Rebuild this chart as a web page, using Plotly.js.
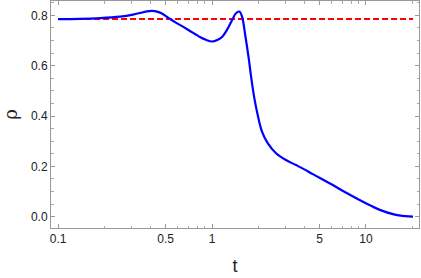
<!DOCTYPE html>
<html><head><meta charset="utf-8">
<script src="https://cdn.plot.ly/plotly-3.0.1.min.js"></script>
<style>html,body{margin:0;padding:0;background:#fff}#plot{width:421px;height:278px}</style>
</head><body><div id="plot"></div>
<script>
var tValues = [0.1, 0.139, 0.1875, 0.253, 0.307, 0.351, 0.378, 0.408, 0.439, 0.473, 0.518, 0.575, 0.639, 0.719, 0.835, 0.912, 1.0, 1.09, 1.17, 1.245, 1.355, 1.43, 1.504, 1.566, 1.645, 1.731, 1.8, 1.883, 1.981, 2.112, 2.3, 2.604, 3.023, 3.512, 3.975, 4.55, 5.84, 7.49, 10, 12.3, 15.4, 18.0, 20.2];
var rhoValues = [0.785, 0.786, 0.789, 0.795, 0.803, 0.811, 0.816, 0.818, 0.815, 0.807, 0.791, 0.773, 0.757, 0.738, 0.714, 0.703, 0.696, 0.703, 0.716, 0.74, 0.783, 0.808, 0.815, 0.795, 0.72, 0.63, 0.55, 0.471, 0.404, 0.338, 0.292, 0.252, 0.225, 0.205, 0.188, 0.168, 0.132, 0.094, 0.053, 0.027, 0.008, 0.002, 0.0];
var refT = [0.1, 20.2];
var refRho = [0.785, 0.785];
var xTickVals = [0.1, 0.5, 1, 5, 10];
var xTickText = ["0.1", "0.5", "1", "5", "10"];
var xMinorVals = [0.2,0.3,0.4,0.6,0.7,0.8,0.9,2,3,4,6,7,8,9,20];
var yTickVals = [0, 0.2, 0.4, 0.6, 0.8];
var yTickText = ["0.0", "0.2", "0.4", "0.6", "0.8"];

var traces = [
  {x: refT, y: refRho, mode: 'lines', line: {color: '#ff0000', width: 2, dash: '6px,3px'}, hoverinfo: 'skip'},
  {x: tValues, y: rhoValues, mode: 'lines', line: {color: '#0000ff', width: 2.2, shape: 'spline', smoothing: 1}, hoverinfo: 'skip'}
];
var axisCommon = {showgrid: false, zeroline: false, showline: true, linecolor: '#999', linewidth: 1, mirror: 'ticks', ticks: 'inside', ticklen: 4, tickcolor: '#999', tickfont: {family: 'Liberation Sans, Arial', size: 12, color: '#222'}};
var layout = {
  width: 421, height: 278,
  margin: {l: 51, r: 2, t: 1, b: 50},
  showlegend: false,
  paper_bgcolor: '#fff', plot_bgcolor: '#fff',
  xaxis: Object.assign({}, axisCommon, {
    type: 'log', range: [Math.log10(0.09), Math.log10(22.1)],
    tickmode: 'array', tickvals: xTickVals, ticktext: xTickText,
    minor: {tickmode: 'array', tickvals: xMinorVals, ticks: 'inside', ticklen: 2.5, tickcolor: '#aaa', showgrid: false},
    title: {text: 't', font: {family: 'Liberation Sans, Arial', size: 18, color: '#222'}, standoff: 13}
  }),
  yaxis: Object.assign({}, axisCommon, {
    range: [-0.045, 0.857],
    tickmode: 'array', tickvals: yTickVals, ticktext: yTickText,
    minor: {dtick: 0.05, tick0: 0, ticks: 'inside', ticklen: 2.5, tickcolor: '#aaa', showgrid: false},
    title: {text: 'ρ', font: {family: 'DejaVu Serif', size: 18, color: '#222'}, standoff: 14}
  })
};
Plotly.newPlot('plot', traces, layout, {displayModeBar: false, staticPlot: true});
</script></body></html>
